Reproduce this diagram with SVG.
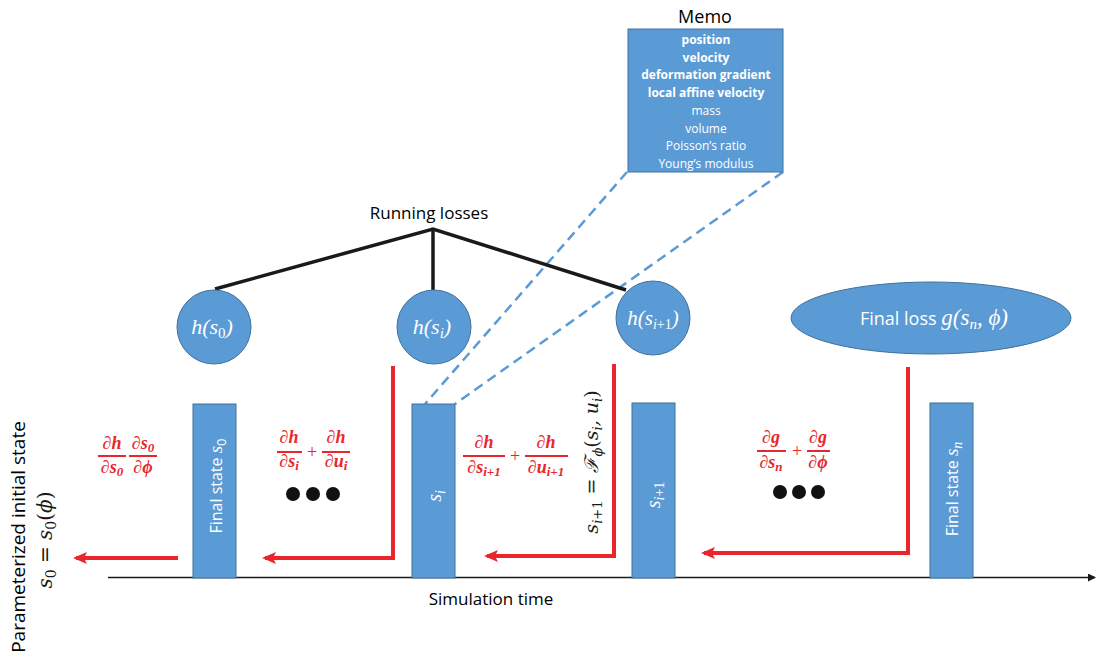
<svg xmlns="http://www.w3.org/2000/svg" width="1099" height="660" viewBox="0 0 1099 660">
<defs>
<style>
.node{fill:#5B9BD5;stroke:#41719C;stroke-width:1}
.lbl{font-family:"Open Sans","Liberation Sans",sans-serif;fill:#000}
.wt{font-family:"Open Sans","Liberation Sans",sans-serif;fill:#fff}
.math{font-family:"DejaVu Serif","Liberation Serif",serif;font-style:italic}
.wmath{font-family:"Liberation Serif","DejaVu Serif",serif;font-style:italic;fill:#fff}
.red{font-family:"Liberation Serif","DejaVu Serif",serif;font-style:italic;font-weight:bold;fill:#E8262B;font-size:18px}
.plus{font-family:"Liberation Serif",serif;fill:#E8262B;font-size:18px}
.fl{stroke:#E8262B;stroke-width:2}
.redarrow{fill:none;stroke:#E8262B;stroke-width:4}
.tree{stroke:#1a1a1a;stroke-width:3.5;fill:none}
.dash{stroke:#5B9BD5;stroke-width:2.5;stroke-dasharray:10 6;fill:none}
.memo{font-family:"Open Sans","Liberation Sans",sans-serif;fill:#fff;font-size:12px}
</style>
<marker id="ra" markerWidth="14" markerHeight="12" refX="11" refY="6" orient="auto" markerUnits="userSpaceOnUse">
<path d="M0,0 L14,6 L0,12 L3,6 z" fill="#E8262B"/>
</marker>
<marker id="ka" markerWidth="8" markerHeight="8" refX="7" refY="4" orient="auto" markerUnits="userSpaceOnUse">
<path d="M0,0 L8,4 L0,8 z" fill="#1a1a1a"/>
</marker>
</defs>
<rect width="1099" height="660" fill="#fff"/>

<g id="connectors">
<line class="dash" x1="627" y1="172" x2="425" y2="404"/>
<line class="dash" x1="783" y1="172" x2="455" y2="404"/>
<polyline class="tree" points="215,289 433,229 626,290"/>
<line class="tree" x1="433" y1="229" x2="433" y2="290"/>
<line x1="108" y1="577.5" x2="1095" y2="577.5" stroke="#1a1a1a" stroke-width="1.5" marker-end="url(#ka)"/>
<line class="redarrow" x1="178" y1="558" x2="76" y2="558" marker-end="url(#ra)"/>
<polyline class="redarrow" points="393,366 393,558 265,558" marker-end="url(#ra)"/>
<polyline class="redarrow" points="614,364 614,556 487,556" marker-end="url(#ra)"/>
<polyline class="redarrow" points="908,367 908,553 704,553" marker-end="url(#ra)"/>
</g>

<g id="memo">
<text class="lbl" x="705" y="23" font-size="18" text-anchor="middle">Memo</text>
<rect class="node" x="628" y="29" width="155" height="143"/>
<g class="memo" text-anchor="middle">
<text x="706" y="44" font-weight="bold">position</text>
<text x="706" y="62" font-weight="bold">velocity</text>
<text x="706" y="79" font-weight="bold">deformation gradient</text>
<text x="706" y="97" font-weight="bold">local affine velocity</text>
<text x="706" y="115">mass</text>
<text x="706" y="133">volume</text>
<text x="706" y="150">Poisson’s ratio</text>
<text x="706" y="168">Young’s modulus</text>
</g>
</g>

<g id="running-losses">
<text class="lbl" x="429" y="219" font-size="17" text-anchor="middle">Running losses</text>
</g>

<g id="h-s0">
<circle class="node" cx="214" cy="327" r="37"/>
<text class="wmath" x="212" y="334" font-size="22" text-anchor="middle">h(s<tspan font-size="15" dy="4" font-style="normal">0</tspan><tspan dy="-4">)</tspan></text>
</g>
<g id="h-si">
<circle class="node" cx="434" cy="327" r="37"/>
<text class="wmath" x="432" y="334" font-size="22" text-anchor="middle">h(s<tspan font-size="15" dy="4">i</tspan><tspan dy="-4">)</tspan></text>
</g>
<g id="h-si1">
<circle class="node" cx="653" cy="318" r="37"/>
<text class="wmath" x="653" y="325" font-size="21" text-anchor="middle">h(s<tspan font-size="14" dy="4">i</tspan><tspan font-size="14" font-style="normal">+1</tspan><tspan dy="-4">)</tspan></text>
</g>
<g id="final-loss">
<ellipse class="node" cx="931" cy="318" rx="140" ry="36"/>
<text x="934" y="325" text-anchor="middle"><tspan class="wt" font-size="18">Final loss  </tspan><tspan class="wmath" font-size="23">g(s<tspan font-size="15" dy="4">n</tspan><tspan dy="-4">, ϕ)</tspan></tspan></text>
</g>

<g id="bar-s0">
<rect class="node" x="193" y="404" width="43" height="174"/>
<text class="wt" transform="translate(222,486) rotate(-90)" font-size="16" text-anchor="middle">Final state <tspan class="wmath" font-size="19">s</tspan><tspan class="wt" font-size="13" dy="4">0</tspan></text>
</g>
<g id="bar-si">
<rect class="node" x="412" y="404" width="43" height="174"/>
<text class="wmath" transform="translate(441,496) rotate(-90)" font-size="20" text-anchor="middle">s<tspan font-size="14" dy="4">i</tspan></text>
</g>
<g id="bar-si1">
<rect class="node" x="632" y="403" width="43" height="175"/>
<text class="wmath" transform="translate(660,495) rotate(-90)" font-size="20" text-anchor="middle">s<tspan font-size="14" dy="4">i</tspan><tspan font-size="14" font-style="normal">+1</tspan></text>
</g>
<g id="bar-sn">
<rect class="node" x="930" y="403" width="43" height="175"/>
<text class="wt" transform="translate(958,489) rotate(-90)" font-size="16" text-anchor="middle">Final state <tspan class="wmath" font-size="19">s</tspan><tspan class="wmath" font-size="14" dy="4">n</tspan></text>
</g>

<g id="transition">
<text class="math" transform="translate(598,462) rotate(-90)" font-size="19" text-anchor="middle" fill="#1a1a1a">s<tspan font-size="13" dy="4">i</tspan><tspan font-size="13" font-style="normal">+1</tspan><tspan dy="-4" font-style="normal"> = </tspan><tspan font-family="Liberation Serif" font-style="italic">ℱ</tspan><tspan font-size="13" dy="4">ϕ</tspan><tspan dy="-4" font-style="normal">(</tspan>s<tspan font-size="13" dy="4">i</tspan><tspan dy="-4">, u</tspan><tspan font-size="13" dy="4">i</tspan><tspan dy="-4" font-style="normal">)</tspan></text>
</g>

<g id="initial-state">
<text class="lbl" transform="translate(25,537) rotate(-90)" font-size="19" text-anchor="middle">Parameterized initial state</text>
<text class="math" transform="translate(52,540) rotate(-90)" font-size="20" text-anchor="middle" fill="#1a1a1a">s<tspan font-size="14" dy="4" font-style="normal">0</tspan><tspan dy="-4" font-style="normal"> = </tspan>s<tspan font-size="14" dy="4" font-style="normal">0</tspan><tspan dy="-4" font-style="normal">(</tspan>ϕ<tspan font-style="normal">)</tspan></text>
</g>

<g id="grad-s0">
<text class="red" x="112" y="449" text-anchor="middle">∂h</text>
<line class="fl" x1="98" y1="456" x2="126" y2="456"/>
<text class="red" x="112" y="473" text-anchor="middle">∂s<tspan font-size="13" dy="3">0</tspan></text>
<text class="red" x="143" y="449" text-anchor="middle">∂s<tspan font-size="13" dy="3">0</tspan></text>
<line class="fl" x1="129" y1="456" x2="157" y2="456"/>
<text class="red" x="143" y="473" text-anchor="middle">∂ϕ</text>
</g>

<g id="grad-si">
<text class="red" x="289" y="443" text-anchor="middle">∂h</text>
<line class="fl" x1="277" y1="452" x2="302" y2="452"/>
<text class="red" x="289" y="467" text-anchor="middle">∂s<tspan font-size="13" dy="3">i</tspan></text>
<text class="plus" x="312" y="458" text-anchor="middle">+</text>
<text class="red" x="336" y="443" text-anchor="middle">∂h</text>
<line class="fl" x1="322" y1="452" x2="350" y2="452"/>
<text class="red" x="336" y="467" text-anchor="middle">∂u<tspan font-size="13" dy="3">i</tspan></text>
<circle cx="293" cy="494" r="7" fill="#111"/>
<circle cx="313" cy="494" r="7" fill="#111"/>
<circle cx="333" cy="494" r="7" fill="#111"/>
</g>

<g id="grad-si1">
<text class="red" x="484" y="448" text-anchor="middle">∂h</text>
<line class="fl" x1="463" y1="456" x2="505" y2="456"/>
<text class="red" x="484" y="473" text-anchor="middle">∂s<tspan font-size="13" dy="3">i+1</tspan></text>
<text class="plus" x="515" y="462" text-anchor="middle">+</text>
<text class="red" x="546" y="448" text-anchor="middle">∂h</text>
<line class="fl" x1="525" y1="456" x2="568" y2="456"/>
<text class="red" x="546" y="473" text-anchor="middle">∂u<tspan font-size="13" dy="3">i+1</tspan></text>
</g>

<g id="grad-final">
<text class="red" x="771" y="443" text-anchor="middle">∂g</text>
<line class="fl" x1="757" y1="451" x2="786" y2="451"/>
<text class="red" x="771" y="468" text-anchor="middle">∂s<tspan font-size="13" dy="3">n</tspan></text>
<text class="plus" x="797" y="457" text-anchor="middle">+</text>
<text class="red" x="818" y="443" text-anchor="middle">∂g</text>
<line class="fl" x1="807" y1="451" x2="830" y2="451"/>
<text class="red" x="818" y="468" text-anchor="middle">∂ϕ</text>
<circle cx="780" cy="492" r="7" fill="#111"/>
<circle cx="799" cy="492" r="7" fill="#111"/>
<circle cx="818" cy="492" r="7" fill="#111"/>
</g>

<g id="axis-label">
<text class="lbl" x="491" y="605" font-size="17" text-anchor="middle">Simulation time</text>
</g>
</svg>
